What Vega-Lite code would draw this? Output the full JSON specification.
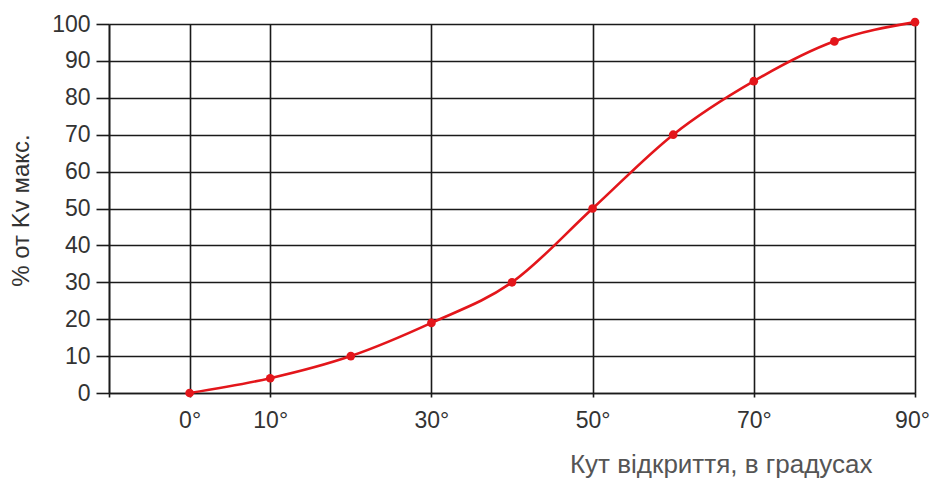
{
  "$schema": "https://vega.github.io/schema/vega-lite/v6.json",
  "width": 806,
  "height": 369,
  "autosize": "none",
  "padding": {"left": 109, "top": 24, "right": 16, "bottom": 86},
  "background": "white",
  "config": {
    "view": {"stroke": null},
    "font": "Liberation Sans"
  },
  "data": {
    "values": [
      {"angle": 0, "pct": 0},
      {"angle": 10, "pct": 4},
      {"angle": 20, "pct": 10},
      {"angle": 30, "pct": 19},
      {"angle": 40, "pct": 30},
      {"angle": 50, "pct": 50},
      {"angle": 60, "pct": 70},
      {"angle": 70, "pct": 84.5},
      {"angle": 80, "pct": 95.3},
      {"angle": 90, "pct": 100.5}
    ]
  },
  "encoding": {
    "x": {
      "field": "angle",
      "type": "quantitative",
      "scale": {"domain": [-10, 90], "nice": false, "zero": false},
      "axis": {
        "values": [-10, 0, 10, 30, 50, 70, 90],
        "labelExpr": "datum.value < 0 ? '' : datum.label + '°'",
        "grid": true,
        "gridColor": "#1a1a1a",
        "gridWidth": 1.6,
        "gridOpacity": 1,
        "domainColor": "#1a1a1a",
        "domainWidth": 1.6,
        "tickColor": "#1a1a1a",
        "tickWidth": 1.6,
        "tickSize": 4,
        "labelFontSize": 23,
        "labelColor": "#333333",
        "labelPadding": 12,
        "labelOffset": {"condition": {"test": "datum.value == 90", "value": -3}, "value": 0},
        "labelFlush": false,
        "title": "Кут відкриття, в градусах",
        "titleFontSize": 26,
        "titleFontWeight": "normal",
        "titleColor": "#555555",
        "titleAnchor": "end",
        "titleAlign": "right",
        "titleX": 763,
        "titleY": 58
      }
    },
    "y": {
      "field": "pct",
      "type": "quantitative",
      "scale": {"domain": [0, 100], "nice": false, "clamp": false},
      "axis": {
        "values": [0, 10, 20, 30, 40, 50, 60, 70, 80, 90, 100],
        "grid": true,
        "gridColor": "#1a1a1a",
        "gridWidth": 1.6,
        "gridOpacity": 1,
        "domainColor": "#1a1a1a",
        "domainWidth": 1.6,
        "tickColor": "#1a1a1a",
        "tickWidth": 1.6,
        "tickSize": 13,
        "labelFontSize": 23,
        "labelColor": "#333333",
        "labelPadding": 6,
        "labelFlush": false,
        "title": "% от Kv макс.",
        "titleFontSize": 24,
        "titleFontWeight": "normal",
        "titleColor": "#333333",
        "titleX": -76,
        "titleY": 186
      }
    }
  },
  "layer": [
    {
      "mark": {"type": "line", "color": "#e3161b", "strokeWidth": 2.6, "interpolate": "monotone", "clip": false}
    },
    {
      "mark": {"type": "point", "filled": true, "color": "#e3161b", "size": 75, "opacity": 1, "clip": false}
    }
  ]
}
